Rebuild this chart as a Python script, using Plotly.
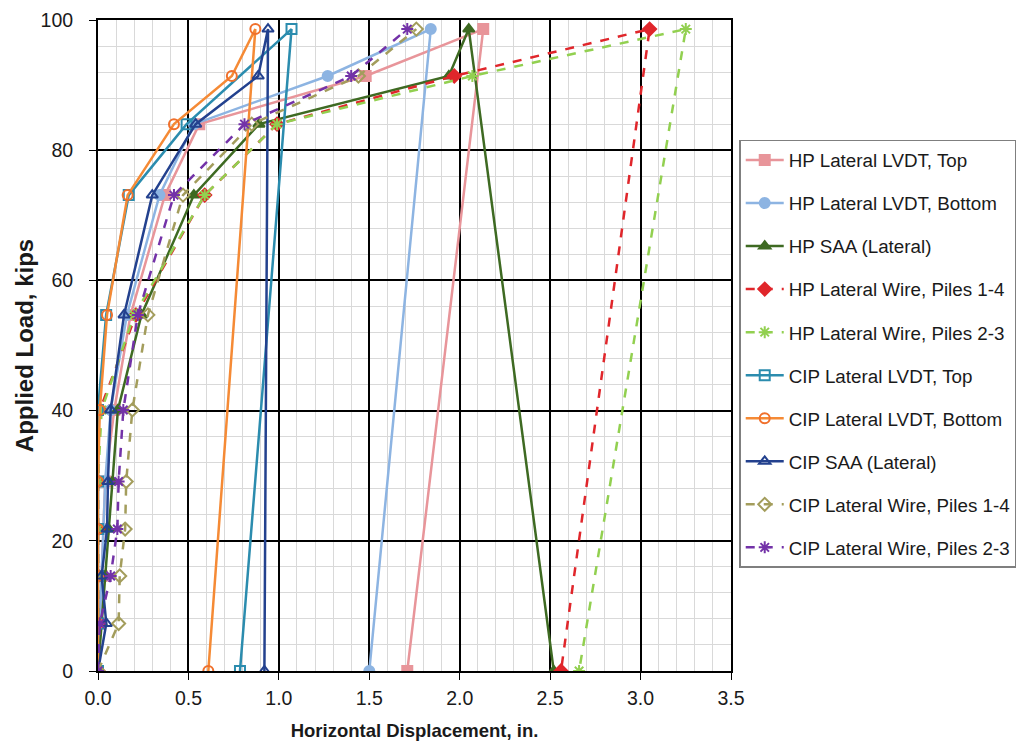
import plotly.graph_objects as go

# Load steps (kips); last entry is the residual after unloading
loads_full = [0, 7.3, 14.6, 21.8, 29.1, 40.1, 54.7, 73.1, 84.0, 91.4, 98.6, 0]
loads_wire_cip = [0, 7.3, 14.6, 21.8, 29.1, 40.1, 54.7, 73.1, 84.0, 91.4, 98.6]

hp_lvdt_top = [0, 0.01, 0.02, 0.03, 0.04, 0.09, 0.18, 0.37, 0.56, 1.48, 2.13, 1.71]
hp_lvdt_bottom = [0, 0.01, 0.02, 0.03, 0.04, 0.07, 0.16, 0.34, 0.53, 1.27, 1.84, 1.50]
hp_saa = [0, 0.02, 0.04, 0.06, 0.08, 0.11, 0.24, 0.53, 0.89, 1.94, 2.05, 2.52]
hp_wire_14 = [0, 0.0, 0.0, 0.0, 0.0, 0.01, 0.21, 0.59, 0.99, 1.97, 3.05, 2.56]
hp_wire_23 = [0, 0.0, 0.0, 0.0, 0.0, 0.02, 0.20, 0.59, 0.99, 2.07, 3.25, 2.66]
cip_lvdt_top = [0, 0.0, 0.0, 0.0, 0.0, 0.0, 0.045, 0.17, 0.49, None, 1.07, 0.785]
cip_lvdt_bottom = [0, 0.0, 0.0, 0.0, 0.0, 0.01, 0.05, 0.164, 0.42, 0.74, 0.87, 0.61]
cip_saa = [0, 0.046, 0.02, 0.05, 0.055, 0.07, 0.144, 0.30, 0.54, 0.886, 0.94, 0.92]
cip_wire_14 = [0, 0.114, 0.12, 0.15, 0.156, 0.19, 0.276, 0.47, 0.85, 1.44, 1.76]
cip_wire_23 = [0, 0.01, 0.07, 0.107, 0.114, 0.14, 0.22, 0.42, 0.81, 1.40, 1.71]

x_ticks = [0.0, 0.5, 1.0, 1.5, 2.0, 2.5, 3.0, 3.5]
y_ticks = [0, 20, 40, 60, 80, 100]

series = [
    ("HP Lateral LVDT, Top", hp_lvdt_top, loads_full, "#E8959A", "solid", "square", "#E8959A"),
    ("HP Lateral LVDT, Bottom", hp_lvdt_bottom, loads_full, "#8DB4E2", "solid", "circle", "#8DB4E2"),
    ("HP SAA (Lateral)", hp_saa, loads_full, "#3E6A22", "solid", "triangle-up", "#3E6A22"),
    ("HP Lateral Wire, Piles 1-4", hp_wire_14, loads_full, "#E0262B", "dash", "diamond", "#E0262B"),
    ("HP Lateral Wire, Piles 2-3", hp_wire_23, loads_full, "#92D050", "dash", "asterisk-open", "#92D050"),
    ("CIP Lateral LVDT, Top", cip_lvdt_top, loads_full, "#2B8CAE", "solid", "square-open", "#2B8CAE"),
    ("CIP Lateral LVDT, Bottom", cip_lvdt_bottom, loads_full, "#F58A35", "solid", "circle-open", "#F0702C"),
    ("CIP SAA (Lateral)", cip_saa, loads_full, "#23418E", "solid", "triangle-up-open", "#23418E"),
    ("CIP Lateral Wire, Piles 1-4", cip_wire_14, loads_wire_cip, "#A39D5C", "dash", "diamond-open", "#A39D5C"),
    ("CIP Lateral Wire, Piles 2-3", cip_wire_23, loads_wire_cip, "#7332A8", "dash", "asterisk-open", "#7332A8"),
]

fig = go.Figure()
for i, (name, xs, ys, color, dash, symbol, mcolor) in enumerate(series):
    fig.add_trace(go.Scatter(
        x=xs, y=ys, name=name, mode="lines+markers",
        connectgaps=True,
        legendgroup=f"g{i}",
        line=dict(color=color, width=2.5, dash=dash),
        marker=dict(symbol=symbol, size=10, color=mcolor,
                    line=dict(color=mcolor, width=2)),
    ))

fig.update_layout(
    width=1028, height=744,
    margin=dict(l=98, r=297, t=20, b=73),
    paper_bgcolor="white", plot_bgcolor="white",
    font=dict(family="Liberation Sans, Arial, sans-serif", size=19.5, color="#1a1a1a"),
    legend=dict(
        x=1.013, y=0.816, xanchor="left", yanchor="top",
        bordercolor="#7f7f7f", borderwidth=1.5,
        font=dict(size=18.8, color="#1a1a1a"),
        tracegroupgap=15.6, itemwidth=38,
        bgcolor="white",
    ),
    showlegend=True,
)

fig.update_xaxes(
    range=[0, 3.5], tickvals=x_ticks, ticktext=[f"{v:.1f}" for v in x_ticks],
    showgrid=True, gridcolor="#000000", gridwidth=1.5,
    minor=dict(dtick=0.1, showgrid=True, gridcolor="#d9d9d9", gridwidth=1),
    showline=True, linecolor="#000000", linewidth=2, mirror=True,
    ticks="outside", ticklen=7, tickcolor="#000000",
    ticklabelstandoff=2,
    zeroline=False, automargin=False,
    title=dict(text="<b>Horizontal Displacement, in.</b>", font=dict(size=18.5), standoff=16),
)
fig.update_yaxes(
    range=[0, 100], tickvals=y_ticks,
    showgrid=True, gridcolor="#000000", gridwidth=1.5,
    minor=dict(dtick=4, showgrid=True, gridcolor="#d9d9d9", gridwidth=1),
    showline=True, linecolor="#000000", linewidth=2, mirror=True,
    ticks="outside", ticklen=7, tickcolor="#000000",
    ticklabelstandoff=12,
    zeroline=False, automargin=False,
    title=dict(text="<b>Applied Load, kips</b>", font=dict(size=24), standoff=0),
)

fig.write_html("out.html")
